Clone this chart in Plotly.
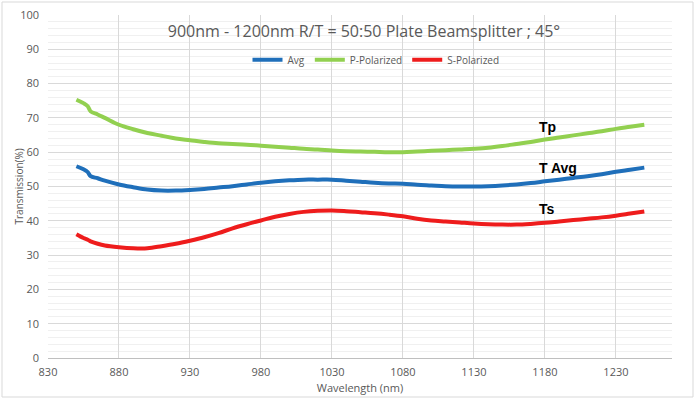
import plotly.graph_objects as go

wavelength = [850, 855, 858, 860, 865, 870, 880, 890, 900, 910, 920, 930, 940, 950, 960, 970,
              980, 990, 1000, 1010, 1020, 1030, 1040, 1050, 1060, 1070, 1080, 1090, 1100, 1110,
              1120, 1130, 1140, 1150, 1160, 1170, 1180, 1190, 1200, 1210, 1220, 1230, 1240, 1250]

avg = [55.9, 55.0, 54.2, 53.0, 52.4, 51.7, 50.6, 49.8, 49.1, 48.8, 48.8, 49.0, 49.3, 49.7, 50.1, 50.6,
       51.1, 51.5, 51.8, 52.0, 52.0, 52.0, 51.7, 51.4, 51.1, 50.9, 50.8, 50.5, 50.3, 50.1,
       50.0, 50.0, 50.1, 50.3, 50.6, 51.0, 51.5, 52.0, 52.5, 53.0, 53.6, 54.3, 54.9, 55.5]

p_pol = [75.3, 74.3, 73.4, 71.9, 71.0, 70.0, 68.0, 66.7, 65.6, 64.8, 64.0, 63.5, 63.0, 62.6, 62.4, 62.2,
         61.9, 61.6, 61.3, 61.0, 60.8, 60.5, 60.3, 60.2, 60.1, 60.0, 60.0, 60.2, 60.4, 60.6,
         60.8, 61.0, 61.3, 61.8, 62.4, 63.0, 63.7, 64.3, 64.9, 65.5, 66.1, 66.8, 67.4, 68.0]

s_pol = [36.1, 35.0, 34.5, 34.0, 33.3, 32.8, 32.3, 32.0, 32.0, 32.6, 33.3, 34.2, 35.2, 36.4, 37.8, 39.0,
         40.1, 41.2, 42.0, 42.6, 42.9, 43.0, 42.8, 42.5, 42.2, 41.8, 41.3, 40.6, 40.1, 39.8,
         39.5, 39.2, 39.0, 38.9, 38.9, 39.1, 39.4, 39.8, 40.2, 40.6, 41.0, 41.5, 42.1, 42.7]

x_ticks = [830, 880, 930, 980, 1030, 1080, 1130, 1180, 1230]
y_ticks = [0, 10, 20, 30, 40, 50, 60, 70, 80, 90, 100]

labels = [("Tp", 1182, 67.4), ("T Avg", 1189, 55.5), ("Ts", 1181.5, 43.5)]

FONT = "Open Sans, Liberation Sans, sans-serif"
GRAY = "#595959"

fig = go.Figure()
fig.add_trace(go.Scatter(x=wavelength, y=avg, mode="lines", name="Avg",
                         line=dict(color="#1F6FBA", width=4, shape="spline")))
fig.add_trace(go.Scatter(x=wavelength, y=p_pol, mode="lines", name="P-Polarized",
                         line=dict(color="#92D050", width=4, shape="spline")))
fig.add_trace(go.Scatter(x=wavelength, y=s_pol, mode="lines", name="S-Polarized",
                         line=dict(color="#EE1C1C", width=4, shape="spline")))

for txt, lx, ly in labels:
    fig.add_annotation(x=lx, y=ly, text="<b>%s</b>" % txt, showarrow=False,
                       font=dict(family="Liberation Sans, Arial, sans-serif", size=14, color="#000000"))

L, R, T, B = 48, 672, 15, 358
W, H = 699, 398
def px_x(p):
    return (p - L) / (R - L)
def px_y(p):
    return (B - p) / (B - T)

# y-axis title placed as rotated text
fig.add_annotation(x=px_x(18), y=0.5, xref="paper", yref="paper", text="Transmission(%)",
                   textangle=-90, showarrow=False, xanchor="center", yanchor="middle",
                   font=dict(family=FONT, size=10, color=GRAY))

fig.add_shape(type="rect", xref="paper", yref="paper",
              x0=px_x(2), x1=px_x(693), y0=px_y(397), y1=px_y(2),
              line=dict(color="#D9D9D9", width=1), fillcolor="rgba(0,0,0,0)", layer="below")

fig.update_layout(
    width=W, height=H,
    margin=dict(l=L, r=W - R, t=T, b=H - B, autoexpand=False),
    paper_bgcolor="white", plot_bgcolor="white",
    font=dict(family=FONT, color=GRAY, size=11),
    title=dict(text="900nm - 1200nm R/T = 50:50 Plate Beamsplitter ; 45°",
               x=px_x(364), xref="paper", xanchor="center",
               y=1 - 31.7 / H, yref="container", yanchor="middle", automargin=False,
               font=dict(family=FONT, size=16, color=GRAY)),
    legend=dict(orientation="h", x=px_x(376), xanchor="center", y=px_y(59.7), yanchor="middle",
                font=dict(family=FONT, size=10, color=GRAY), bgcolor="rgba(0,0,0,0)",
                itemwidth=30, tracegroupgap=0),
    showlegend=True,
)

fig.update_xaxes(range=[830, 1269.5], tickvals=x_ticks, ticktext=[str(v) for v in x_ticks],
                 showgrid=True, gridcolor="#D9D9D9", gridwidth=1, automargin=False,
                 showline=True, linecolor="#BFBFBF", linewidth=1, zeroline=False,
                 ticks="", ticklabelstandoff=4, tickfont=dict(size=11, color=GRAY),
                 title=dict(text="Wavelength (nm)", font=dict(size=11, color=GRAY), standoff=6))
fig.update_yaxes(range=[0, 100], tickvals=y_ticks, ticktext=[str(v) for v in y_ticks],
                 showgrid=True, gridcolor="#D9D9D9", gridwidth=1, automargin=False,
                 minor=dict(dtick=2, showgrid=True, gridcolor="#F0F0F0", gridwidth=1),
                 showline=False, zeroline=False,
                 ticks="", ticklabelstandoff=8, tickfont=dict(size=11, color=GRAY))

fig.write_html("out.html", config={"displayModeBar": False},
               post_script="document.body.style.margin='0px';document.body.style.overflow='hidden';")
